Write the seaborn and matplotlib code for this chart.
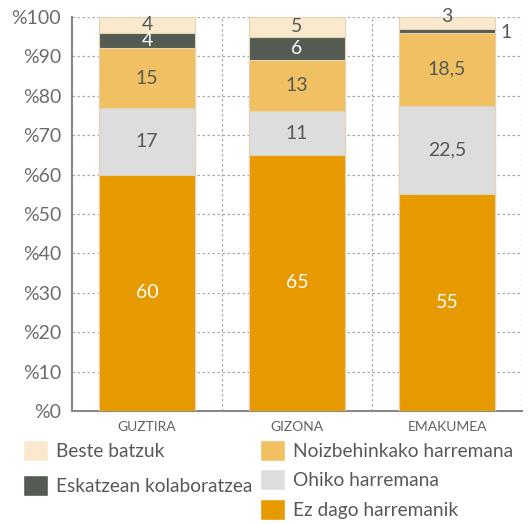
import pandas as pd
import matplotlib.pyplot as plt
import seaborn as sns
from matplotlib.patches import Patch

# Datuak
taldeak = ['GUZTIRA', 'GIZONA', 'EMAKUMEA']
ez_dago = [60, 65, 55]
ohiko = [17, 11, 22.5]
noizbehinka = [15, 13, 18.5]
eskatzean = [4, 6, 1]
beste = [4, 5, 3]

serieak = ['Ez dago harremanik', 'Ohiko harremana', 'Noizbehinkako harremana',
           'Eskatzean kolaboratzea', 'Beste batzuk']
koloreak = ['#E69A00', '#DCDDDC', '#F0C062', '#535B52', '#FAE9CC']
testu_kolorea = ['white', '#555a55', '#555a55', 'white', '#555a55']

df = pd.DataFrame({'taldea': taldeak, serieak[0]: ez_dago, serieak[1]: ohiko,
                   serieak[2]: noizbehinka, serieak[3]: eskatzean, serieak[4]: beste})
metatua = df[serieak].cumsum(axis=1)
metatua['taldea'] = df['taldea']

sns.set_style('white')
plt.rcParams['font.family'] = ['Lato', 'DejaVu Sans']

fig = plt.figure(figsize=(5.31, 5.24), dpi=100)
ax = fig.add_axes([0.136, 0.2157, 0.847, 0.752])

# Goitik behera marraztu, metatutako altuerekin
for i in reversed(range(len(serieak))):
    sns.barplot(data=metatua, x='taldea', y=serieak[i], color=koloreak[i], saturation=1,
                width=0.64, edgecolor='#E3D3B3', linewidth=0.8, ax=ax, zorder=3)

# Balioen etiketak
for j, t in enumerate(taldeak):
    behea = 0
    for i, s in enumerate(serieak):
        v = df.loc[j, s]
        testua = str(v).replace('.', ',') if v % 1 else str(int(v))
        if v <= 1:
            ax.text(j + 0.315 + 0.08, behea + v / 2 - 0.5, testua, ha='center', va='center',
                    fontsize=14, color='#555a55', zorder=5)
        else:
            y = behea + v / 2
            if i == 4 and v < 4:
                y += 1.5
            ax.text(j, y, testua, ha='center', va='center', fontsize=14,
                    color=testu_kolorea[i], zorder=5)
        behea += v

ax.set_xlim(-0.5, 2.5)
ax.set_ylim(0, 100)
ax.set_yticks(range(0, 101, 10))
ax.set_yticklabels(['%' + str(v) for v in range(0, 101, 10)], fontsize=14, color='#6a6d6a')
ax.set_xticks(range(3))
ax.set_xticklabels(taldeak, fontsize=10, color='#5f625f')
ax.set_xticks([0.5, 1.5, 2.5], minor=True)
ax.tick_params(axis='x', which='major', length=0, pad=7)
ax.tick_params(axis='x', which='minor', length=6, direction='inout', color='#999999', width=1)
ax.tick_params(axis='y', length=5, direction='out', color='#888888', width=1.5, pad=3)
ax.set_xlabel('')
ax.set_ylabel('')

ax.yaxis.grid(True, color='#aaaaaa', linestyle=(0, (2, 2)), linewidth=0.9, zorder=0)
for x in [0.5, 1.5, 2.5]:
    ax.axvline(x, color='#aaaaaa', linestyle=(0, (2, 2)), linewidth=0.9, zorder=0)
sns.despine(ax=ax, top=True, right=True)
ax.spines['left'].set_color('#888888')
ax.spines['left'].set_linewidth(1.5)
ax.spines['bottom'].set_color('#888888')
ax.spines['bottom'].set_linewidth(1.5)

# Legenda bi zutabetan
ezker = [Patch(facecolor=koloreak[4]), Patch(facecolor=koloreak[3])]
eskuin = [Patch(facecolor=koloreak[2]), Patch(facecolor=koloreak[1]), Patch(facecolor=koloreak[0])]
for handles, labels, x, tartea in [(ezker, [serieak[4], serieak[3]], 0.044, 0.74),
                                   (eskuin, [serieak[2], serieak[1], serieak[0]], 0.49, 0.44)]:
    fig.legend(handles, labels, loc='upper left', bbox_to_anchor=(x, 0.16), frameon=False,
               fontsize=13.8, handlelength=1.3, handleheight=1.3, handletextpad=0.4,
               labelspacing=tartea, borderpad=0, borderaxespad=0, labelcolor='#555a55')

fig.savefig('out.png', dpi=100)
